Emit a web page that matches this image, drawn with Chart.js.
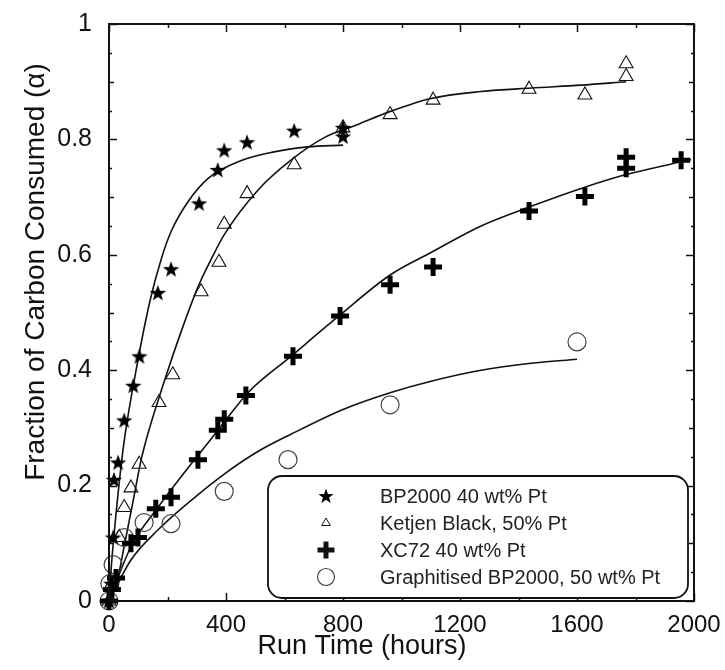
<!DOCTYPE html>
<html>
<head>
<meta charset="utf-8">
<script src="https://cdn.jsdelivr.net/npm/chart.js@4.4.0/dist/chart.umd.min.js"></script>
<style>
  html, body { margin: 0; padding: 0; background: #fff; }
  #wrap { width: 725px; height: 670px; }
</style>
</head>
<body>
<div id="wrap"><canvas id="myChart"></canvas></div>
<script>
'use strict';
let seriesNames = ['BP2000 40 wt% Pt', 'Ketjen Black, 50% Pt', 'XC72 40 wt% Pt', 'Graphitised BP2000, 50 wt% Pt'];
let xTickLabels = ['0', '400', '800', '1200', '1600', '2000'];
let yTickLabels = ['0', '0.2', '0.4', '0.6', '0.8', '1'];
let xTitle = 'Run Time (hours)';
let yTitle = 'Fraction of Carbon Consumed (\u03b1)';

// measured points (hours, fraction consumed)
let bpHours = [0, 8, 14, 17, 31, 52, 83, 104, 167, 212, 308, 372, 394, 472, 633, 800, 800];
let bpAlpha = [0, 0.03, 0.11, 0.21, 0.24, 0.313, 0.373, 0.424, 0.534, 0.575, 0.689, 0.747, 0.781, 0.795, 0.815, 0.82, 0.805];
let kbHours = [0, 10, 35, 52, 75, 103, 171, 218, 315, 376, 394, 472, 633, 800, 961, 1108, 1436, 1627, 1768, 1768];
let kbAlpha = [0, 0.03, 0.11, 0.162, 0.196, 0.237, 0.344, 0.392, 0.536, 0.587, 0.653, 0.706, 0.756, 0.82, 0.843, 0.868, 0.887, 0.877, 0.909, 0.931];
let xcHours = [0, 10, 24, 75, 99, 160, 212, 304, 372, 394, 468, 629, 790, 961, 1108, 1436, 1627, 1768, 1768, 1956];
let xcAlpha = [0, 0.02, 0.04, 0.1, 0.11, 0.16, 0.18, 0.245, 0.296, 0.315, 0.356, 0.424, 0.494, 0.548, 0.579, 0.676, 0.701, 0.75, 0.769, 0.764];
let grHours = [0, 3, 14, 52, 120, 212, 394, 612, 961, 1600];
let grAlpha = [0, 0.03, 0.063, 0.11, 0.136, 0.134, 0.19, 0.245, 0.34, 0.449];

// fitted curves
let bpFitHours = [0, 8, 20, 50, 100, 140, 180, 212, 270, 340, 450, 560, 680, 800];
let bpFitAlpha = [0, 0.06, 0.13, 0.27, 0.42, 0.52, 0.595, 0.64, 0.692, 0.733, 0.763, 0.778, 0.787, 0.79];
let kbFitHours = [0, 30, 52, 85, 110, 133, 184, 246, 304, 355, 394, 509, 622, 736, 851, 964, 1101, 1272, 1443, 1614, 1768];
let kbFitAlpha = [0, 0.04, 0.095, 0.18, 0.245, 0.29, 0.373, 0.466, 0.544, 0.598, 0.635, 0.712, 0.764, 0.803, 0.826, 0.849, 0.871, 0.883, 0.889, 0.894, 0.9];
let xcFitHours = [0, 75, 167, 280, 315, 394, 475, 622, 786, 961, 1101, 1272, 1443, 1614, 1768, 1990];
let xcFitAlpha = [0, 0.094, 0.162, 0.237, 0.259, 0.31, 0.361, 0.424, 0.494, 0.565, 0.604, 0.65, 0.684, 0.715, 0.739, 0.765];
let grFitHours = [0, 75, 167, 280, 394, 509, 622, 800, 961, 1101, 1272, 1443, 1600];
let grFitAlpha = [0, 0.071, 0.123, 0.174, 0.22, 0.259, 0.289, 0.332, 0.361, 0.381, 0.4, 0.412, 0.419];

let fontFamily = '"Liberation Sans", Arial, Helvetica, sans-serif';

function toPoints(xs, ys) {
    return xs.map((x, i) => ({ x: x, y: ys[i] }));
}

// filled five point star used as a point style
function makeStar(size, outer, inner) {
    let c = document.createElement('canvas');
    c.width = size;
    c.height = size;
    let g = c.getContext('2d');
    g.beginPath();
    for (let i = 0; i < 10; i++) {
        let r = i % 2 === 0 ? outer : inner;
        let a = -Math.PI / 2 + i * Math.PI / 5;
        let px = size / 2 + r * Math.cos(a);
        let py = size / 2 + 0.6 + r * Math.sin(a);
        if (i === 0) g.moveTo(px, py); else g.lineTo(px, py);
    }
    g.closePath();
    g.fillStyle = '#000';
    g.fill();
    return c;
}
let starImg = makeStar(20, 8.6, 3.5);
let starLegend = makeStar(18, 8, 3.2);

function fitLine(xs, ys) {
    return {
        data: toPoints(xs, ys),
        showLine: true,
        borderColor: '#111',
        borderWidth: 1.6,
        pointRadius: 0,
        cubicInterpolationMode: 'monotone',
        fill: false,
        order: 2
    };
}

let markerStyles = [
    { pointStyle: starImg, pointRadius: 8, borderWidth: 0, borderColor: '#000', backgroundColor: '#000' },
    { pointStyle: 'triangle', pointRadius: 8, borderWidth: 1.1, borderColor: '#111', backgroundColor: 'rgba(0,0,0,0)' },
    { pointStyle: 'cross', pointRadius: 9, borderWidth: 5, borderColor: '#000', backgroundColor: '#000' },
    { pointStyle: 'circle', pointRadius: 9, borderWidth: 1.2, borderColor: '#444', backgroundColor: 'rgba(0,0,0,0)' }
];
let legendStyles = [
    { pointStyle: starLegend, radius: 8, borderWidth: 0 },
    { pointStyle: 'triangle', radius: 5, borderWidth: 1 },
    { pointStyle: 'cross', radius: 8.5, borderWidth: 5 },
    { pointStyle: 'circle', radius: 8.5, borderWidth: 1.2 }
];

let markerSets = [toPoints(bpHours, bpAlpha), toPoints(kbHours, kbAlpha), toPoints(xcHours, xcAlpha), toPoints(grHours, grAlpha)];
let datasets = markerSets.map((pts, i) => Object.assign({
    label: seriesNames[i],
    data: pts,
    showLine: false,
    clip: false,
    order: 1
}, markerStyles[i]));
datasets.push(fitLine(bpFitHours, bpFitAlpha));
datasets.push(fitLine(kbFitHours, kbFitAlpha));
datasets.push(fitLine(xcFitHours, xcFitAlpha));
datasets.push(fitLine(grFitHours, grFitAlpha));

// frame with inward ticks on all four sides, axis titles and the boxed key
let framePlugin = {
    id: 'frame',
    afterDraw(chart) {
        let ctx = chart.ctx;
        let a = chart.chartArea;
        let xs = chart.scales.x;
        let ys = chart.scales.y;
        ctx.save();
        ctx.strokeStyle = '#111';
        ctx.lineWidth = 1.5;
        ctx.beginPath();
        for (let i = 0; i <= 10; i++) {
            let px = Math.round(xs.getPixelForValue(i * 200)) + 0.5;
            let len = i % 2 === 0 ? 8 : 4;
            ctx.moveTo(px, a.bottom); ctx.lineTo(px, a.bottom - len);
            ctx.moveTo(px, a.top); ctx.lineTo(px, a.top + len);
        }
        for (let i = 0; i <= 20; i++) {
            let py = Math.round(ys.getPixelForValue(i * 0.05)) + 0.5;
            let len = i % 4 === 0 ? 8 : (i % 2 === 0 ? 5 : 3);
            ctx.moveTo(a.left, py); ctx.lineTo(a.left + len, py);
            ctx.moveTo(a.right, py); ctx.lineTo(a.right - len, py);
        }
        ctx.stroke();
        ctx.lineWidth = 2;
        ctx.strokeRect(a.left, a.top, a.right - a.left, a.bottom - a.top);

        // axis titles
        ctx.fillStyle = '#111';
        ctx.font = '27px ' + fontFamily;
        ctx.textAlign = 'center';
        ctx.textBaseline = 'middle';
        ctx.fillText(xTitle, a.left + 253, a.bottom + 46);
        ctx.save();
        ctx.font = '28px ' + fontFamily;
        ctx.translate(36, a.top + 248);
        ctx.rotate(-Math.PI / 2);
        ctx.fillText(yTitle, 0, 0);
        ctx.restore();

        // key
        let bw = 420, bh = 122;
        let bx = a.right - bw - 6, by = a.bottom - bh - 3;
        ctx.fillStyle = '#fff';
        ctx.lineWidth = 1.8;
        ctx.beginPath();
        ctx.roundRect(bx, by, bw, bh, 14);
        ctx.fill();
        ctx.stroke();
        ctx.font = '20px ' + fontFamily;
        ctx.textBaseline = 'middle';
        ctx.textAlign = 'left';
        for (let i = 0; i < seriesNames.length; i++) {
            let cy = by + 20 + i * 27;
            let st = legendStyles[i];
            ctx.fillStyle = i === 2 ? '#000' : 'rgba(0,0,0,0)';
            ctx.strokeStyle = i === 3 ? '#444' : '#111';
            ctx.lineWidth = st.borderWidth;
            Chart.helpers.drawPoint(ctx, { pointStyle: st.pointStyle, radius: st.radius, borderWidth: st.borderWidth, rotation: 0 }, bx + 58, cy);
            ctx.fillStyle = '#222';
            ctx.fillText(seriesNames[i], bx + 112, cy + 1);
        }
        ctx.restore();
    }
};

let ctx = document.getElementById('myChart').getContext('2d');
let myChart = new Chart(ctx, {
    type: 'scatter',
    data: { datasets: datasets },
    plugins: [framePlugin],
    options: {
        responsive: true,
        maintainAspectRatio: false,
        animation: false,
        layout: { padding: { top: 17, right: 31, left: 0, bottom: 0 } },
        plugins: {
            legend: { display: false },
            tooltip: { enabled: false }
        },
        scales: {
            x: {
                type: 'linear',
                min: 0,
                max: 2000,
                grid: { display: false },
                border: { display: false },
                ticks: {
                    stepSize: 400,
                    padding: 2,
                    color: '#111',
                    font: { family: fontFamily, size: 24 },
                    callback: (value, index) => xTickLabels[index]
                },
                afterFit: (scale) => { scale.height = 69; }
            },
            y: {
                min: 0,
                max: 1,
                grid: { display: false },
                border: { display: false },
                ticks: {
                    stepSize: 0.2,
                    padding: 9,
                    color: '#111',
                    font: { family: fontFamily, size: 25 },
                    callback: (value, index) => yTickLabels[index]
                },
                afterFit: (scale) => { scale.width = 109; }
            }
        }
    }
});
</script>
</body>
</html>
